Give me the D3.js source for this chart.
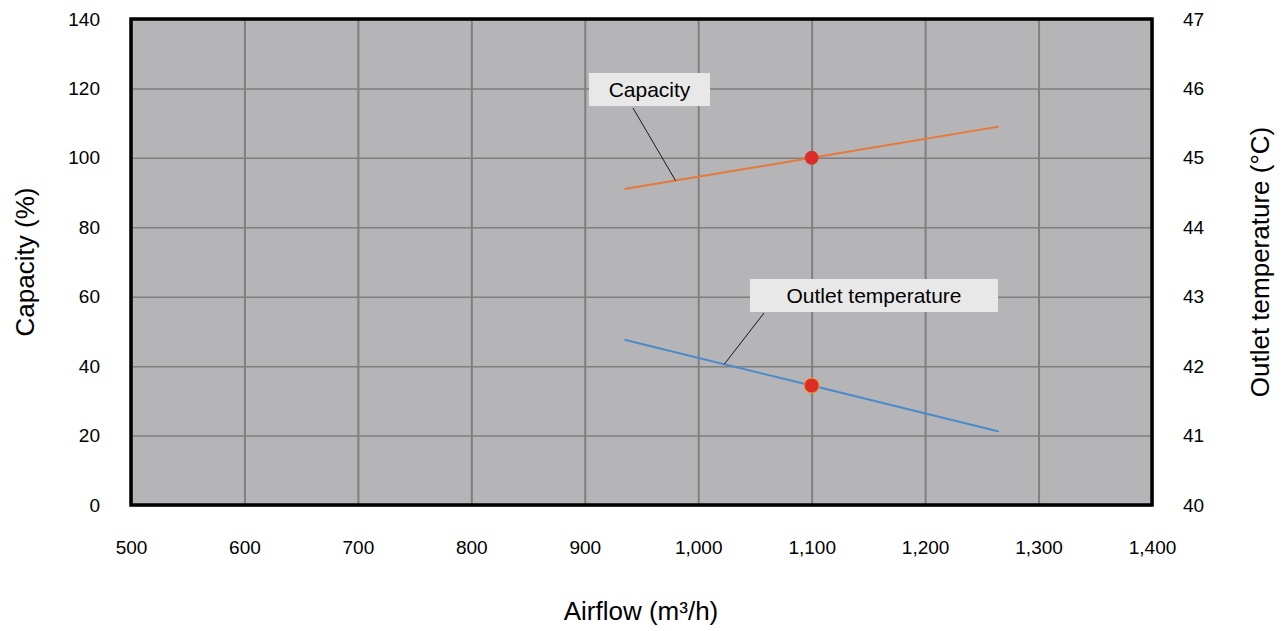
<!DOCTYPE html>
<html>
<head>
<meta charset="utf-8">
<script src="https://cdn.jsdelivr.net/npm/d3@7"></script>
<style>
  body { margin: 0; background: #fff; }
  text { font-family: "Liberation Sans", Arial, sans-serif; }
</style>
</head>
<body>
<div id="chart-area"></div>
<script>
// data
const airflow = [935, 1100, 1265]
const capacity = [91, 100, 109]
const outletTemp = [42.38, 41.72, 41.06]
const designAirflow = 1100
const designCapacity = 100
const designTemp = 41.72
const xTicks = [500, 600, 700, 800, 900, 1000, 1100, 1200, 1300, 1400]
const yLeftTicks = [0, 20, 40, 60, 80, 100, 120, 140]
const yRightTicks = [40, 41, 42, 43, 44, 45, 46, 47]

const W = 1282, H = 631
const MARGIN = { LEFT: 131, RIGHT: 130, TOP: 19, BOTTOM: 126 }
const WIDTH = W - MARGIN.LEFT - MARGIN.RIGHT
const HEIGHT = H - MARGIN.TOP - MARGIN.BOTTOM
const FONT = "Liberation Sans, Arial, sans-serif"

const svg = d3.select("#chart-area").append("svg")
  .attr("width", W)
  .attr("height", H)

const g = svg.append("g")
  .attr("transform", `translate(${MARGIN.LEFT}, ${MARGIN.TOP})`)

const x = d3.scaleLinear().domain([500, 1400]).range([0, WIDTH])
const yL = d3.scaleLinear().domain([0, 140]).range([HEIGHT, 0])
const yR = d3.scaleLinear().domain([40, 47]).range([HEIGHT, 0])

// plot background
g.append("rect")
  .attr("width", WIDTH)
  .attr("height", HEIGHT)
  .attr("fill", "#b5b5b7")

// grid
g.append("g")
  .call(d3.axisBottom(x).tickValues(xTicks).tickSize(HEIGHT).tickFormat(""))
  .call(a => a.select(".domain").remove())
  .call(a => a.selectAll("line").attr("stroke", "#7f7f7f").attr("stroke-width", 2))

g.append("g")
  .call(d3.axisLeft(yL).tickValues(yLeftTicks).tickSize(-WIDTH).tickFormat(""))
  .call(a => a.select(".domain").remove())
  .call(a => a.selectAll("line").attr("stroke", "#7f7f7f").attr("stroke-width", 1.5))

// tick labels
const xAxis = g.append("g")
  .attr("transform", `translate(0, ${HEIGHT})`)
  .call(d3.axisBottom(x).tickValues(xTicks).tickSize(0).tickPadding(36).tickFormat(d3.format(",")))
xAxis.select(".domain").remove()
xAxis.selectAll("text").attr("font-size", "19px").attr("fill", "#000").style("font-family", FONT)

const yAxisL = g.append("g")
  .call(d3.axisLeft(yL).tickValues(yLeftTicks).tickSize(0).tickPadding(31).tickFormat(d => d))
yAxisL.select(".domain").remove()
yAxisL.selectAll("text").attr("font-size", "19px").attr("fill", "#000").style("font-family", FONT)

const yAxisR = g.append("g")
  .attr("transform", `translate(${WIDTH}, 0)`)
  .call(d3.axisRight(yR).tickValues(yRightTicks).tickSize(0).tickPadding(31).tickFormat(d => d))
yAxisR.select(".domain").remove()
yAxisR.selectAll("text").attr("font-size", "19px").attr("fill", "#000").style("font-family", FONT)

// border
g.append("rect")
  .attr("width", WIDTH)
  .attr("height", HEIGHT)
  .attr("fill", "none")
  .attr("stroke", "#000")
  .attr("stroke-width", 3.5)

// lines
const capLine = d3.line().x((d, i) => x(airflow[i])).y(d => yL(d))
const tempLine = d3.line().x((d, i) => x(airflow[i])).y(d => yR(d))

g.append("path")
  .attr("d", capLine(capacity))
  .attr("fill", "none")
  .attr("stroke", "#e8783a")
  .attr("stroke-width", 2)

g.append("path")
  .attr("d", tempLine(outletTemp))
  .attr("fill", "none")
  .attr("stroke", "#4b8bcb")
  .attr("stroke-width", 2)

// design points
g.append("circle")
  .attr("cx", x(designAirflow))
  .attr("cy", yL(designCapacity))
  .attr("r", 7)
  .attr("fill", "#dc2e26")

g.append("circle")
  .attr("cx", x(designAirflow))
  .attr("cy", yR(designTemp))
  .attr("r", 7.5)
  .attr("fill", "#dc2e26")
  .attr("stroke", "#f0a030")
  .attr("stroke-width", 1)

// callout labels
function callout(text, bx, by, bw, bh, p1, p2) {
  g.append("line")
    .attr("x1", p1[0]).attr("y1", p1[1])
    .attr("x2", p2[0]).attr("y2", p2[1])
    .attr("stroke", "#1a1a1a")
    .attr("stroke-width", 1)
  g.append("rect")
    .attr("x", bx).attr("y", by)
    .attr("width", bw).attr("height", bh)
    .attr("fill", "#e8e8e8")
  g.append("text")
    .attr("x", bx + bw / 2)
    .attr("y", by + bh / 2 + 7)
    .attr("text-anchor", "middle")
    .attr("font-size", "21px")
    .text(text)
}

const capAt = a => capacity[0] + (capacity[2] - capacity[0]) * (a - airflow[0]) / (airflow[2] - airflow[0])
const tmpAt = a => outletTemp[0] + (outletTemp[2] - outletTemp[0]) * (a - airflow[0]) / (airflow[2] - airflow[0])

callout("Capacity", 589 - MARGIN.LEFT, 73 - MARGIN.TOP, 121, 33,
  [633 - MARGIN.LEFT, 108 - MARGIN.TOP], [x(980), yL(capAt(980))])
callout("Outlet temperature", 750 - MARGIN.LEFT, 279 - MARGIN.TOP, 248, 33,
  [764 - MARGIN.LEFT, 313 - MARGIN.TOP], [x(1023), yR(tmpAt(1023))])

// axis titles
svg.append("text")
  .attr("x", 641)
  .attr("y", 620)
  .attr("text-anchor", "middle")
  .attr("font-size", "26px")
  .text("Airflow (m³/h)")

svg.append("text")
  .attr("transform", `translate(34, ${MARGIN.TOP + HEIGHT / 2}) rotate(-90)`)
  .attr("text-anchor", "middle")
  .attr("font-size", "26px")
  .text("Capacity (%)")

svg.append("text")
  .attr("transform", `translate(1269, ${MARGIN.TOP + HEIGHT / 2}) rotate(-90)`)
  .attr("text-anchor", "middle")
  .attr("font-size", "26px")
  .text("Outlet temperature (°C)")
</script>
</body>
</html>
